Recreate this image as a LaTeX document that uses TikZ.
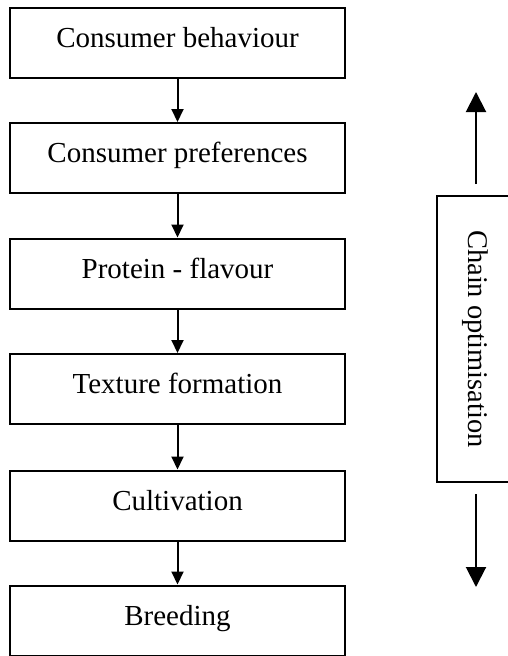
\documentclass[tikz,border=0pt]{standalone}
\usepackage{fontspec}
\setmainfont{Liberation Serif}
\usetikzlibrary{arrows.meta}
\begin{document}
\begin{tikzpicture}[x=1pt,y=-1pt,
  stage/.style={draw, line width=2pt, minimum width=335pt, minimum height=70pt,
    inner sep=0pt, font=\fontsize{29}{34}\selectfont,
    text height=20pt, text depth=11pt},
  sidebox/.style={draw, line width=2pt, minimum width=286pt, minimum height=72pt,
    inner sep=0pt, rotate=-90, font=\fontsize{28.5}{34}\selectfont,
    text height=20pt, text depth=11pt},
  flow/.style={line width=2pt, -{Triangle[length=13pt,width=12pt]}},
  bigflow/.style={line width=2pt, -{Triangle[length=20pt,width=20pt]}}]
\useasboundingbox (0,0) rectangle (507,656);

% stages of the chain
\node[stage] (behaviour)   at (177.5,42.5)  {Consumer behaviour};
\node[stage] (preferences) at (177.5,158)   {Consumer preferences};
\node[stage] (protein)     at (177.5,273.5) {Protein - flavour};
\node[stage] (texture)     at (177.5,389)   {Texture formation};
\node[stage] (cultivation) at (177.5,505.5) {Cultivation};
\node[stage] (breeding)    at (177.5,620.5) {Breeding};

\draw[flow] (behaviour)   -- (preferences);
\draw[flow] (preferences) -- (protein);
\draw[flow] (protein)     -- (texture);
\draw[flow] (texture)     -- (cultivation);
\draw[flow] (cultivation) -- (breeding);

% optimisation along the whole chain
\node[sidebox] (chain) at (473,339) {Chain optimisation};
\coordinate (uptip)   at (476,92);
\coordinate (downtip) at (476,587);
\draw[bigflow, shorten <=11pt] (uptip |- chain.west) -- (uptip);
\draw[bigflow, shorten <=11pt] (downtip |- chain.east) -- (downtip);
\end{tikzpicture}
\end{document}
